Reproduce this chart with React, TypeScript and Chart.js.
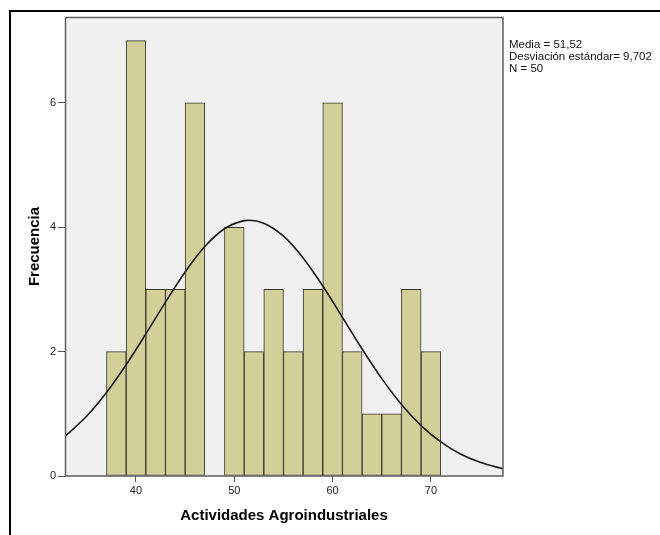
import { useEffect, useRef } from "react";
import { Chart, registerables } from "chart.js";

Chart.register(...registerables);

// Histogram bins (width 2) – centres and frequencies
const BIN_CENTERS = [38, 40, 42, 44, 46, 48, 50, 52, 54, 56, 58, 60, 62, 64, 66, 68, 70];
const COUNTS: (number | null)[] = [2, 7, 3, 3, 6, null, 4, 2, 3, 2, 3, 6, 2, 1, 1, 3, 2];

// Normal curve
const CURVE_X = [32.78, 35, 37, 39, 41, 43, 45, 47, 49, 51, 51.52, 53, 55, 57, 59, 61, 63, 65, 67, 69, 71, 73, 75, 77, 77.33];
const CURVE_Y = [0.637, 0.965, 1.342, 1.788, 2.284, 2.796, 3.281, 3.689, 3.975, 4.106, 4.112, 4.064, 3.856, 3.506, 3.055, 2.551, 2.042, 1.566, 1.151, 0.811, 0.548, 0.354, 0.22, 0.131, 0.119];

const X_TICKS = [40, 50, 60, 70];
const Y_TICKS = [0, 2, 4, 6];
const X_MIN = 32.78;
const X_MAX = 77.33;
const Y_MAX = 7.38;

const STATS = ["Media = 51,52", "Desviación estándar= 9,702", "N = 50"];
const X_TITLE = "Actividades Agroindustriales";
const Y_TITLE = "Frecuencia";

const FONT = "'Liberation Sans', Arial, sans-serif";

const decorPlugin = {
  id: "decor",
  beforeDraw(chart: any) {
    const { ctx, chartArea } = chart;
    ctx.save();
    ctx.fillStyle = "#ffffff";
    ctx.fillRect(0, 0, chart.width, chart.height);
    ctx.fillStyle = "#F0F0F0";
    ctx.fillRect(chartArea.left, chartArea.top, chartArea.right - chartArea.left, chartArea.bottom - chartArea.top);
    // outer frame
    ctx.fillStyle = "#000000";
    ctx.fillRect(9, 10, 2, chart.height - 10);
    ctx.fillRect(9, 10, chart.width - 9, 2);
    ctx.restore();
  },
  afterDatasetsDraw(chart: any) {
    const { ctx, chartArea } = chart;
    ctx.save();
    ctx.strokeStyle = "#5e5e5e";
    ctx.lineWidth = 1.5;
    ctx.strokeRect(chartArea.left + 0.5, chartArea.top + 0.5, chartArea.right - chartArea.left - 0.5, chartArea.bottom - chartArea.top - 0.5);
    ctx.restore();
  },
  afterDraw(chart: any) {
    const { ctx, chartArea } = chart;
    ctx.save();
    ctx.fillStyle = "#111111";
    ctx.font = `11.5px ${FONT}`;
    ctx.textBaseline = "alphabetic";
    ctx.textAlign = "left";
    STATS.forEach((s, i) => {
      ctx.fillText(s, chartArea.right + 6, 48 + i * 12);
    });
    ctx.restore();
  },
};

export default function App() {
  const ref = useRef<HTMLCanvasElement | null>(null);

  useEffect(() => {
    if (!ref.current) return;
    const chart = new Chart(ref.current, {
      type: "bar",
      data: {
        datasets: [
          {
            type: "line",
            data: CURVE_X.map((x, i) => ({ x, y: CURVE_Y[i] })),
            borderColor: "#1a1a1a",
            borderWidth: 1.6,
            pointRadius: 0,
            cubicInterpolationMode: "monotone",
            fill: false,
            order: 0,
          } as any,
          {
            type: "bar",
            data: BIN_CENTERS.map((x, i) => ({ x, y: COUNTS[i] })),
            backgroundColor: "#D3CF98",
            borderColor: "#38382f",
            borderWidth: 1,
            borderSkipped: false,
            barPercentage: 1,
            categoryPercentage: 1,
            order: 1,
          } as any,
        ],
      },
      options: {
        animation: false,
        responsive: false,
        devicePixelRatio: 1,
        layout: { padding: { left: 0, right: 157, top: 17, bottom: 0 } },
        plugins: {
          legend: { display: false },
          tooltip: { enabled: false },
        },
        scales: {
          x: {
            type: "linear",
            min: X_MIN,
            max: X_MAX,
            offset: false,
            grid: { offset: false, drawOnChartArea: false, drawTicks: true, tickLength: 6, color: "#555555", lineWidth: 1 },
            border: { display: false },
            ticks: { color: "#222222", font: { family: FONT, size: 11 }, padding: 2, maxRotation: 0, autoSkip: false },
            afterBuildTicks: (scale: any) => {
              scale.ticks = X_TICKS.map((v) => ({ value: v }));
            },
            afterFit: (scale: any) => {
              scale.height = 59;
            },
            title: {
              display: true,
              text: X_TITLE,
              color: "#000000",
              font: { family: FONT, size: 15, weight: "bold" },
              padding: { top: 0, bottom: 10 },
            },
          },
          y: {
            type: "linear",
            min: 0,
            max: Y_MAX,
            grid: { drawOnChartArea: false, drawTicks: true, tickLength: 7, color: "#555555", lineWidth: 1 },
            border: { display: false },
            ticks: { color: "#222222", font: { family: FONT, size: 11 }, padding: 2, autoSkip: false },
            afterBuildTicks: (scale: any) => {
              scale.ticks = Y_TICKS.map((v) => ({ value: v }));
            },
            afterFit: (scale: any) => {
              scale.width = 65;
            },
            title: {
              display: true,
              text: Y_TITLE,
              color: "#000000",
              font: { family: FONT, size: 15, weight: "bold" },
              padding: { top: 26, bottom: 0 },
            },
          },
        },
      } as any,
      plugins: [decorPlugin],
    });
    return () => chart.destroy();
  }, []);

  return (
    <div style={{ position: "absolute", left: 0, top: 0, width: 660, height: 535 }}>
      <canvas ref={ref} width={660} height={535} style={{ display: "block", width: 660, height: 535 }} />
    </div>
  );
}
